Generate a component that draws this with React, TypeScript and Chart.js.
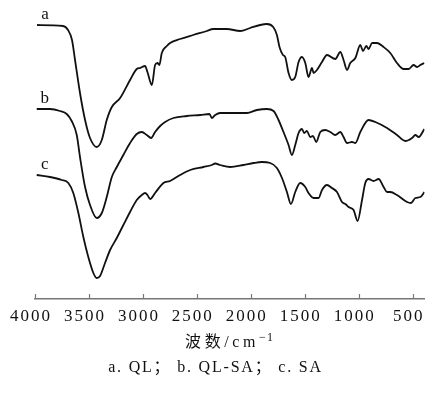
import React, { useEffect, useRef } from "react";
import { Chart, registerables } from "chart.js";

Chart.register(...registerables);

// Curve a: QL
const wavenumbersA = [3981, 3740, 3694, 3657, 3629, 3583, 3536, 3490, 3428, 3381, 3335, 3288, 3211, 3119, 3057, 3026, 2980, 2958, 2917, 2887, 2865, 2847, 2825, 2778, 2748, 2655, 2534, 2407, 2349, 2222, 2098, 2006, 1913, 1851, 1792, 1758, 1734, 1702, 1681, 1650, 1619, 1588, 1557, 1526, 1495, 1465, 1433, 1418, 1387, 1340, 1294, 1217, 1170, 1140, 1108, 1078, 1031, 985, 960, 929, 908, 876, 830, 769, 707, 645, 583, 537, 491, 459, 428, 391];
const valuesA = [274, 273, 269, 259, 239, 206, 179, 161, 152, 159, 179, 192, 201, 219, 230, 231, 233, 227, 214, 234, 236, 234, 246, 253, 256, 260, 264, 268, 270, 270, 268, 271, 274, 275, 272, 264, 252, 244, 242, 226, 219, 222, 237, 242, 236, 222, 231, 226, 229, 237, 244, 240, 247, 239, 229, 236, 241, 254, 248, 253, 250, 256, 256, 252, 246, 236, 230, 230, 234, 232, 234, 236];

// Curve b: QL-SA
const wavenumbersB = [3984, 3861, 3768, 3706, 3660, 3613, 3583, 3536, 3490, 3428, 3381, 3335, 3288, 3242, 3181, 3119, 3057, 3010, 2964, 2924, 2887, 2840, 2794, 2717, 2593, 2469, 2383, 2361, 2330, 2284, 2160, 2036, 1943, 1851, 1789, 1743, 1697, 1650, 1619, 1588, 1557, 1526, 1505, 1480, 1449, 1424, 1393, 1356, 1310, 1263, 1217, 1170, 1140, 1108, 1062, 1031, 985, 908, 846, 737, 645, 568, 505, 475, 444, 391];
const valuesB = [190, 190, 188, 185, 178, 164, 142, 112, 94, 81, 86, 102, 122, 132, 144, 156, 165, 167, 164, 161, 167, 173, 177, 181, 183, 184, 185, 181, 184, 186, 186, 186, 189, 190, 188, 179, 167, 154, 144, 154, 166, 170, 166, 168, 162, 163, 157, 167, 169, 167, 164, 167, 162, 156, 157, 156, 167, 179, 177, 171, 164, 158, 161, 164, 162, 170];

// Curve c: SA
const wavenumbersC = [3984, 3861, 3752, 3691, 3645, 3598, 3552, 3506, 3459, 3428, 3397, 3351, 3304, 3242, 3181, 3119, 3057, 3010, 2980, 2958, 2933, 2887, 2810, 2748, 2655, 2562, 2439, 2361, 2330, 2284, 2191, 2068, 1975, 1897, 1820, 1758, 1711, 1665, 1628, 1588, 1542, 1495, 1465, 1418, 1372, 1340, 1294, 1248, 1201, 1155, 1124, 1094, 1047, 1010, 969, 939, 908, 862, 815, 769, 737, 707, 645, 552, 515, 475, 428, 391];
const valuesC = [124, 122, 119, 116, 106, 86, 62, 42, 26, 21, 23, 36, 49, 61, 74, 87, 99, 104, 106, 104, 100, 106, 116, 118, 124, 129, 132, 134, 135.5, 134, 132, 134, 136, 137, 136, 131, 121, 107, 95, 107, 116, 112, 106, 101, 101, 109, 114, 111, 107, 97, 95, 92, 89, 78, 99, 116, 120, 118, 120, 112, 107, 107, 104, 97, 96, 101, 102, 107];

const seriesNames = ["a", "b", "c"];
const tickValues = [4000, 3500, 3000, 2500, 2000, 1500, 1000, 500];
const xMin = 390;
const xMax = 4000;
const axisTitleBase = "波数/cm";
const axisTitleExponent = "−1";
const caption = "a. QL； b. QL-SA； c. SA";

const SERIF = "'Liberation Serif', 'Times New Roman', 'Noto Sans CJK SC', serif";

const toPoints = (xs: number[], ys: number[]) => xs.map((x, i) => ({ x, y: ys[i] }));

const spacingPlugin = {
  id: "tickSpacing",
  beforeLayout(chart: any) {
    chart.ctx.letterSpacing = "2px";
  },
  beforeDraw(chart: any) {
    chart.ctx.letterSpacing = "2px";
  },
};

const seriesLabelPlugin = {
  id: "seriesLabels",
  afterDatasetsDraw(chart: any) {
    const ctx = chart.ctx;
    ctx.save();
    ctx.letterSpacing = "0px";
    ctx.fillStyle = "#111";
    ctx.font = `17px ${SERIF}`;
    ctx.textAlign = "center";
    ctx.textBaseline = "middle";
    chart.data.datasets.forEach((ds: any, i: number) => {
      const meta = chart.getDatasetMeta(i);
      const p = meta.data[0];
      if (!p) return;
      ctx.fillText(ds.label, p.x + 8, p.y - 10);
    });
    ctx.restore();
  },
};

const innerTickPlugin = {
  id: "innerTicks",
  afterDraw(chart: any) {
    const ctx = chart.ctx;
    const xs = chart.scales.x;
    const bottom = chart.chartArea.bottom;
    ctx.save();
    ctx.strokeStyle = "#777";
    ctx.lineWidth = 1.2;
    tickValues.forEach((v) => {
      const px = Math.round(xs.getPixelForValue(v)) + 0.5;
      ctx.beginPath();
      ctx.moveTo(px, bottom);
      ctx.lineTo(px, bottom - 5);
      ctx.stroke();
    });
    ctx.restore();
  },
};

export default function App() {
  const canvasRef = useRef<HTMLCanvasElement | null>(null);

  useEffect(() => {
    if (!canvasRef.current) return;
    const lineStyle = {
      borderColor: "#111",
      borderWidth: 1.8,
      pointRadius: 0,
      fill: false,
      cubicInterpolationMode: "monotone" as const,
    };
    const chart = new Chart(canvasRef.current, {
      type: "line",
      data: {
        datasets: [
          { label: seriesNames[0], data: toPoints(wavenumbersA, valuesA), ...lineStyle },
          { label: seriesNames[1], data: toPoints(wavenumbersB, valuesB), ...lineStyle },
          { label: seriesNames[2], data: toPoints(wavenumbersC, valuesC), ...lineStyle },
        ],
      },
      options: {
        animation: false,
        responsive: false,
        events: [],
        layout: { padding: { left: 35, right: 6.5, top: 0, bottom: 59.6 } },
        plugins: {
          legend: { display: false },
          tooltip: { enabled: false },
          title: { display: false },
        },
        scales: {
          x: {
            type: "linear",
            reverse: true,
            min: xMin,
            max: xMax,
            afterBuildTicks: (scale: any) => {
              scale.ticks = tickValues.map((v) => ({ value: v }));
            },
            afterFit: (scale: any) => {
              scale.paddingLeft = 0;
              scale.paddingRight = 0;
            },
            grid: { display: false, drawTicks: false },
            border: { display: true, color: "#777", width: 1.5 },
            ticks: {
              autoSkip: false,
              maxRotation: 0,
              padding: 7,
              labelOffset: -4,
              color: "#111",
              font: { family: SERIF, size: 17 },
              callback: (v: any) => String(v),
            },
          },
          y: {
            display: false,
            min: 0,
            max: 299,
          },
        },
      },
      plugins: [spacingPlugin, seriesLabelPlugin, innerTickPlugin],
    });
    return () => chart.destroy();
  }, []);

  const textBase: React.CSSProperties = {
    position: "absolute",
    fontFamily: SERIF,
    color: "#111",
    textAlign: "center",
    whiteSpace: "nowrap",
    lineHeight: "20px",
    height: 20,
    margin: 0,
  };

  return (
    <div style={{ position: "fixed", left: 0, top: 0, width: 431, height: 393, background: "#fff" }}>
      <canvas ref={canvasRef} width={431} height={393} style={{ display: "block" }} />
      <div style={{ ...textBase, left: 35, width: 389, top: 332, fontSize: 16, letterSpacing: "3.6px" }}>
        {axisTitleBase}
        <span style={{ fontSize: 12, position: "relative", top: -6, letterSpacing: "1px" }}>{axisTitleExponent}</span>
      </div>
      <div style={{ ...textBase, left: 0, width: 431, top: 357, fontSize: 16, letterSpacing: "1.8px" }}>
        {caption}
      </div>
    </div>
  );
}
